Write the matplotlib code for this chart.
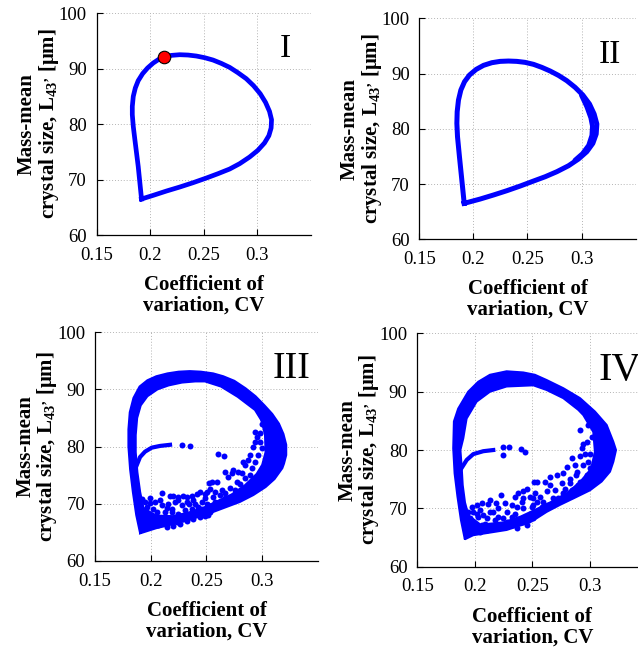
import numpy as np
import matplotlib
matplotlib.use("Agg")
import matplotlib.pyplot as plt

plt.rcParams.update({
    "font.family": "Liberation Serif",
    "mathtext.fontset": "custom",
    "mathtext.rm": "Liberation Serif:bold",
    "mathtext.default": "rm",
})

BLUE = "#0000ff"
XTICKS = [0.15, 0.2, 0.25, 0.3]
XTICKLABELS = ["0.15", "0.2", "0.25", "0.3"]
YTICKS = [60, 70, 80, 90, 100]
PANEL_NAMES = ["I", "II", "III", "IV"]

# --- panel I: single closed orbit + marked state
cv_1 = [0.1918, 0.1887, 0.1856, 0.1841, 0.1832, 0.1832, 0.1841, 0.1860, 0.1887,
        0.1928, 0.1974, 0.2027, 0.2083, 0.2135, 0.2197, 0.2275, 0.2352, 0.2430,
        0.2507, 0.2585, 0.2662, 0.2740, 0.2817, 0.2895, 0.2963, 0.3025, 0.3075,
        0.3112, 0.3131, 0.3127, 0.3106, 0.3065, 0.3003, 0.2926, 0.2833, 0.2740,
        0.2631, 0.2523, 0.2399, 0.2275, 0.2151, 0.2027, 0.1918]
l43_1 = [66.49, 72.37, 77.18, 79.58, 81.68, 83.18, 84.98, 86.49, 87.81,
         89.07, 90.09, 90.99, 91.71, 92.13, 92.37, 92.49, 92.43, 92.25,
         91.95, 91.53, 90.93, 90.21, 89.25, 88.17, 86.91, 85.47, 83.90,
         82.28, 80.78, 79.28, 77.90, 76.58, 75.26, 74.05, 72.85, 71.89,
         71.05, 70.27, 69.43, 68.65, 67.93, 67.15, 66.49]
mark_cv, mark_l43 = 0.2130, 92.1

# --- panel II: orbit, slightly spread on the right side
cv_2 = [0.1914, 0.1892, 0.1870, 0.1852, 0.1846, 0.1849, 0.1861, 0.1883, 0.1917,
        0.1963, 0.2025, 0.2093, 0.2170, 0.2247, 0.2324, 0.2401, 0.2478, 0.2556,
        0.2633, 0.2710, 0.2787, 0.2864, 0.2941, 0.3012, 0.3074, 0.3117, 0.3142,
        0.3136, 0.3105, 0.3049, 0.2972, 0.2880, 0.2772, 0.2664, 0.2556, 0.2432,
        0.2309, 0.2185, 0.2062, 0.1914]
l43_2 = [66.51, 70.73, 74.95, 78.57, 80.99, 83.10, 85.21, 87.02, 88.53,
         89.74, 90.76, 91.49, 91.97, 92.21, 92.27, 92.21, 92.03, 91.67,
         91.12, 90.46, 89.67, 88.71, 87.50, 86.12, 84.49, 82.68, 80.87,
         79.06, 77.37, 75.86, 74.53, 73.32, 72.24, 71.33, 70.55, 69.64,
         68.80, 68.02, 67.29, 66.51]
cv_2_in = [0.3000, 0.3050, 0.3087, 0.3102, 0.3097, 0.3067, 0.3010, 0.2940]
l43_2_in = [86.1, 84.0, 82.0, 80.5, 78.8, 77.0, 75.5, 74.3]

# --- panel III: dense band (outer / inner edge), branch, scattered states
cv_3_outer = [0.1905, 0.187, 0.184, 0.1815, 0.1800, 0.1800, 0.1812, 0.1845, 0.190,
              0.197, 0.205, 0.215, 0.225, 0.235, 0.245, 0.256, 0.265, 0.275,
              0.285, 0.294, 0.302, 0.309, 0.315, 0.319, 0.3215, 0.3215, 0.3195,
              0.318, 0.311, 0.303, 0.292, 0.280, 0.265, 0.250, 0.235, 0.220, 0.205,
              0.1905]
l43_3_outer = [64.8, 68.0, 72.0, 76.0, 80.0, 83.0, 86.0, 88.5, 90.5,
               91.6, 92.3, 92.8, 93.1, 93.2, 93.1, 92.8, 92.3, 91.5,
               90.2, 88.8, 87.2, 85.7, 84.0, 82.2, 80.3, 78.5, 77.0,
               76.2, 74.3, 72.9, 71.5, 70.3, 69.2, 68.1, 67.2, 66.4, 65.7,
               64.8]
cv_3_inner = [0.1935, 0.1905, 0.188, 0.1865, 0.1865, 0.1878, 0.191, 0.197, 0.206,
              0.216, 0.228, 0.240, 0.2486, 0.263, 0.278, 0.2935, 0.2995, 0.3025,
              0.303, 0.300, 0.295, 0.2844, 0.2725, 0.2605, 0.2486, 0.235, 0.220,
              0.205, 0.1935]
l43_3_inner = [69.2, 72.0, 75.5, 79.0, 82.0, 85.0, 87.2, 88.8, 90.0,
               90.7, 91.2, 91.4, 91.4, 90.5, 88.7, 86.4, 84.5, 82.0,
               79.0, 76.8, 75.2, 73.2, 71.6, 70.5, 69.4, 68.5, 67.8,
               67.9, 69.2]
cv_3_branch = [0.1874, 0.1904, 0.1949, 0.2009, 0.2083, 0.2173]
l43_3_branch = [76.7, 78.15, 79.1, 79.8, 80.1, 80.3]
cv_3_dots = [0.2605, 0.2656, 0.2934, 0.2955, 0.2979, 0.2919, 0.2889, 0.2874, 0.2829,
             0.2844, 0.2785, 0.2740, 0.2725, 0.2665, 0.2689, 0.2815, 0.2770, 0.2800,
             0.2844, 0.2889, 0.2904, 0.2934, 0.2964, 0.2994, 0.2979, 0.2546, 0.2591,
             0.2531, 0.2576, 0.2635, 0.2620, 0.2665, 0.2710, 0.2755,
             0.2173, 0.2203, 0.2248, 0.2293, 0.2322, 0.2367, 0.2412, 0.2442, 0.2487,
             0.2525, 0.2083, 0.2039, 0.1994, 0.1949, 0.1964, 0.2024, 0.2098, 0.2158,
             0.2218, 0.2278, 0.2322, 0.2382, 0.2457, 0.2502, 0.2128, 0.2188, 0.2248,
             0.2307, 0.2367, 0.2427, 0.2472, 0.2054, 0.2113, 0.2173, 0.2233, 0.2293,
             0.2352, 0.2412, 0.2487, 0.2532, 0.2009, 0.2068, 0.2143, 0.2203, 0.2263,
             0.2322, 0.2382, 0.2442, 0.2517, 0.2278, 0.2352,
             0.3009, 0.3039, 0.2994, 0.2934, 0.2516, 0.2576, 0.2665, 0.2755, 0.2844,
             0.2904, 0.2979, 0.3024, 0.2486, 0.2501, 0.2561, 0.1904, 0.1919, 0.1979,
             0.2054, 0.1990, 0.2100, 0.2150, 0.2195, 0.2240, 0.2340, 0.2400, 0.2450]
l43_3_dots = [78.6, 78.3, 82.6, 81.7, 82.3, 80.0, 78.5, 77.6, 77.3,
              76.8, 75.6, 75.9, 75.3, 75.6, 74.7, 75.3, 73.8, 73.5,
              74.4, 75.0, 76.2, 77.3, 78.5, 79.7, 80.8, 73.8, 73.7,
              72.6, 72.1, 72.4, 71.5, 71.8, 72.7, 72.4,
              71.4, 71.3, 71.1, 71.3, 71.1, 71.4, 71.7, 72.1, 71.7,
              73.65, 70.6, 70.3, 70.1, 70.3, 69.4, 69.1, 69.7, 70.0,
              70.3, 69.7, 70.3, 70.6, 70.3, 70.0, 68.5, 68.5, 68.2,
              68.8, 69.1, 69.4, 68.5, 67.6, 67.1, 67.3, 66.8, 67.3,
              67.6, 68.2, 67.9, 68.5, 66.8, 66.2, 65.9, 66.0, 66.4,
              66.9, 67.3, 67.6, 68.0, 80.2, 80.1,
              84.6, 83.8, 84.0, 80.8, 69.8, 70.3, 70.9, 71.2, 72.1,
              73.3, 74.1, 75.6, 70.9, 72.1, 71.2, 69.7, 70.8, 68.2,
              68.5, 71.0, 71.8, 69.2, 69.0, 70.6, 70.0, 69.9, 69.0]

# --- panel IV
cv_4_outer = [0.1914, 0.188, 0.185, 0.1825, 0.1813, 0.1819, 0.1856, 0.1943, 0.2030,
              0.2132, 0.2277, 0.2422, 0.2523, 0.2625, 0.2770, 0.2915, 0.3045, 0.3147,
              0.3205, 0.3228, 0.3205, 0.3176, 0.3103, 0.3002, 0.2857, 0.2741, 0.2625,
              0.2538, 0.2480, 0.2277, 0.1987, 0.1914]
l43_4_outer = [64.7, 68.0, 72.0, 76.0, 80.3, 84.9, 87.1, 90.0, 91.7,
               92.9, 93.5, 93.3, 92.9, 92.0, 90.6, 88.9, 86.6, 84.3,
               81.4, 80.0, 78.0, 76.3, 74.6, 73.1, 71.7, 70.6, 69.4,
               68.3, 67.6, 66.3, 65.4, 64.7]
cv_4_inner = [0.1945, 0.1915, 0.1895, 0.1885, 0.1875, 0.1900, 0.1929, 0.2016, 0.2132,
              0.2277, 0.2509, 0.2625, 0.2770, 0.2900, 0.2944, 0.3031, 0.3045, 0.3020,
              0.3000, 0.2915, 0.2800, 0.2654, 0.2520, 0.2400, 0.2250, 0.2050, 0.1945]
l43_4_inner = [68.8, 71.0, 74.0, 77.4, 80.0, 82.0, 85.4, 88.3, 90.0,
               90.9, 91.1, 90.3, 88.9, 86.9, 86.0, 83.1, 79.7, 77.5,
               76.5, 74.5, 72.6, 71.0, 69.7, 68.6, 67.6, 67.2, 68.8]
cv_4_branch = [0.1885, 0.1930, 0.1987, 0.2074, 0.2161]
l43_4_branch = [76.9, 78.3, 79.3, 79.8, 80.0]
cv_4_dots = [0.2242, 0.2297, 0.2248, 0.2401, 0.2436,
             0.2227, 0.2184, 0.2111, 0.2016, 0.1972, 0.2045, 0.2132, 0.2204, 0.2277,
             0.2364, 0.2380, 0.2416, 0.2456, 0.2480, 0.2407, 0.2320, 0.2248, 0.2175,
             0.2103, 0.2030, 0.1987, 0.2060, 0.2146, 0.2233, 0.2320, 0.2407, 0.2480,
             0.2509, 0.2517,
             0.2915, 0.2944, 0.2929, 0.2958, 0.2915, 0.2871, 0.2799, 0.2880, 0.2828,
             0.2770, 0.2712, 0.2654, 0.2610, 0.2538, 0.2654, 0.2755, 0.2784, 0.2697,
             0.2625, 0.2567, 0.2523, 0.2596, 0.2683, 0.2799, 0.2900, 0.2958, 0.3002,
             0.2987, 0.2973, 0.3016, 0.3060, 0.3103, 0.3147, 0.3161, 0.3118, 0.3060,
             0.3045, 0.3074, 0.2509, 0.2552, 0.2480,
             0.1943, 0.1958, 0.1929, 0.2016, 0.2074, 0.2001, 0.2045, 0.2103, 0.2161,
             0.2204, 0.2277, 0.2262, 0.2320, 0.2349, 0.2422, 0.2451, 0.2494, 0.2422,
             0.2349, 0.2132, 0.2059, 0.1987, 0.2088, 0.2364, 0.2451, 0.2509,
             0.2538, 0.2581, 0.2639, 0.2726, 0.2770, 0.2842, 0.2915, 0.2973, 0.3016,
             0.2828, 0.2886, 0.2944, 0.2842, 0.3002, 0.2987]
l43_4_dots = [80.6, 80.5, 79.1, 80.2, 79.6,
              72.3, 71.0, 70.7, 70.6, 70.3, 69.7, 69.4, 70.0, 69.4,
              70.3, 72.6, 72.9, 73.3, 72.0, 71.1, 68.6, 68.3, 68.0,
              68.3, 68.6, 67.7, 67.1, 66.6, 66.9, 67.1, 67.7, 68.9,
              71.7, 74.6,
              83.4, 81.1, 80.3, 79.4, 78.9, 77.4, 77.1, 75.7, 75.1,
              76.0, 75.7, 75.3, 74.6, 74.6, 74.0, 74.3, 73.4, 73.1,
              72.9, 72.0, 72.6, 71.1, 71.7, 72.3, 74.0, 74.9, 76.9,
              78.0, 81.4, 82.3, 80.9, 79.1, 79.7, 77.4, 76.6, 77.4,
              76.0, 75.1, 70.6, 69.4, 69.1,
              69.4, 68.3, 67.1, 69.1, 68.8, 66.6, 66.0, 66.3, 69.4,
              68.6, 67.7, 70.9, 70.6, 69.1, 70.0, 68.6, 70.3, 71.7,
              72.0, 71.4, 70.9, 69.4, 67.4, 66.6, 67.1, 68.3,
              71.1, 70.3, 70.6, 71.7, 72.6, 73.1, 74.6, 75.7, 74.6,
              74.3, 76.3, 77.4, 78.6, 79.4, 84.3]

fig = plt.figure(figsize=(6.38, 6.48), dpi=100)
axes = [fig.add_axes([0.1516, 0.6373, 0.3360, 0.3426]),
        fig.add_axes([0.6575, 0.6307, 0.3386, 0.3410]),
        fig.add_axes([0.1489, 0.1347, 0.3495, 0.3525]),
        fig.add_axes([0.6540, 0.1255, 0.3605, 0.3600])]
NAME_SIZE = [24, 24, 27, 29]


def style(ax, name, size):
    ax.set_xlim(0.15, 0.35)
    ax.set_ylim(60, 100)
    ax.set_xticks(XTICKS)
    ax.set_xticklabels(XTICKLABELS)
    ax.set_yticks(YTICKS)
    for s in ("top", "right"):
        ax.spines[s].set_visible(False)
    for s in ("left", "bottom"):
        ax.spines[s].set_linewidth(0.9)
    ax.tick_params(direction="in", length=4, width=0.8, labelsize=13.5,
                   top=False, right=False)
    ax.tick_params(axis="x", pad=8.5)
    ax.tick_params(axis="y", pad=7)
    ax.grid(True, color="#b4b4b4", linestyle=(0, (1, 2)), linewidth=0.7)
    ax.set_axisbelow(True)
    ax.set_xlabel("Coefficient of\nvariation, CV", fontsize=15,
                  fontweight="bold", labelpad=8, linespacing=1.05)
    ax.set_ylabel("Mass-mean\ncrystal size, L$_{43}$$^{,}$ [μm]", fontsize=15,
                  fontweight="bold", labelpad=-1.5, linespacing=1.0)
    ax.text(0.88, 0.80, name, transform=ax.transAxes, fontsize=size,
            ha="center", va="baseline")


def band(ax, ox, oy, ix, iy):
    bx = np.concatenate([ox, ix[::-1]])
    by = np.concatenate([oy, iy[::-1]])
    ax.fill(bx, by, color=BLUE, lw=1.5, edgecolor=BLUE, zorder=3)


ax = axes[0]
ax.plot(cv_1, l43_1, color=BLUE, lw=3.4, solid_joinstyle="round", zorder=3)
ax.plot(mark_cv, mark_l43, "o", color="#ff0000", mec="black", mew=0.8,
        ms=9, zorder=4)

ax = axes[1]
ax.plot(cv_2, l43_2, color=BLUE, lw=3.6, solid_joinstyle="round", zorder=3)
ax.plot(cv_2_in, l43_2_in, color=BLUE, lw=3.6, solid_capstyle="round", zorder=3)

ax = axes[2]
band(ax, np.array(cv_3_outer), np.array(l43_3_outer),
     np.array(cv_3_inner), np.array(l43_3_inner))
ax.plot(cv_3_branch, l43_3_branch, color=BLUE, lw=3.0, zorder=3)
ax.plot(cv_3_dots, l43_3_dots, "o", color=BLUE, ms=4.3, mew=0, zorder=3)

ax = axes[3]
band(ax, np.array(cv_4_outer), np.array(l43_4_outer),
     np.array(cv_4_inner), np.array(l43_4_inner))
ax.plot(cv_4_branch, l43_4_branch, color=BLUE, lw=3.0, zorder=3)
ax.plot(cv_4_dots, l43_4_dots, "o", color=BLUE, ms=4.3, mew=0, zorder=3)

for ax, name, size in zip(axes, PANEL_NAMES, NAME_SIZE):
    style(ax, name, size)

fig.savefig("out.png", dpi=100)
